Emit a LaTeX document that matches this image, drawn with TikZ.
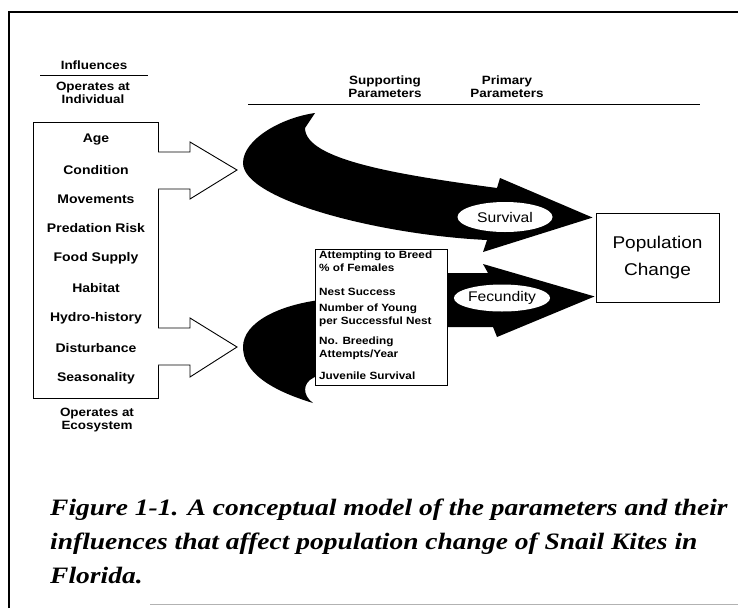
\documentclass[tikz,border=0pt]{standalone}
\usepackage{fontspec}
\setmainfont{Liberation Serif}
\newfontfamily\lab{Liberation Sans}[FakeStretch=1.12]
\newfontfamily\capfont{Liberation Serif}[FakeStretch=1.17]
\usetikzlibrary{shapes.geometric,calc}
\begin{document}
\begin{tikzpicture}[x=1pt,y=-1pt,
  small/.style={font=\lab\fontsize{12}{13}\selectfont\bfseries, inner sep=0pt, align=center},
  tiny/.style={font=\lab\fontsize{10.5}{12.5}\selectfont\bfseries, inner sep=0pt, align=left, anchor=north west},
  item/.style={font=\lab\fontsize{12.5}{14}\selectfont\bfseries, inner sep=0pt},
  big/.style={font=\lab\fontsize{17}{27}\selectfont, inner sep=0pt, align=center},
  ell/.style={ellipse, fill=white, inner sep=0pt, font=\lab\fontsize{14}{16}\selectfont},
  captxt/.style={anchor=west, inner sep=0pt, font=\capfont\bfseries\itshape\fontsize{23.5}{32}\selectfont},
  frame/.style={line width=1.4pt},
  hollow/.style={draw, fill=white, line width=0.9pt, line join=miter},
  blackarrow/.style={fill=black}
]
\useasboundingbox (0,0) rectangle (738,608);
% frame
\draw[frame] (9,608) -- (9,12) -- (738,12);
\draw[gray!60, line width=0.8pt] (150,604) -- (738,604);

% headings
\node[small] (infl) at (94,65) {Influences};
\draw[line width=0.8pt] (40,75) -- (148,75);
\node[small] (opind) at (93,93) {Operates at\\Individual};
\node[small] (supp) at (385,87) {Supporting\\Parameters};
\node[small] (prim) at (507,87) {Primary\\Parameters};
\draw[line width=0.9pt] (248,104) -- (700,104);

% left box
\node[draw, line width=0.9pt, minimum width=125pt, minimum height=276pt, inner sep=0pt] (box) at (95.5,260) {};
\foreach \t/\y [count=\i] in {Age/140, Condition/170, Movements/199, Predation Risk/228, Food Supply/258, Habitat/288, Hydro-history/318, Disturbance/348, Seasonality/378}
  \node[item] (it\i) at (96,\y) {\t};
\node[small] (opeco) at (97,420) {Operates at\\Ecosystem};

% hollow arrows
\draw[hollow] (158,152) -- (190,152) -- (190,142) -- (237,170) -- (190,199) -- (190,189) -- (158,189);
\draw[hollow] (158,328) -- (190,328) -- (190,318) -- (237,347) -- (190,377) -- (190,365) -- (158,365);

% population change
\node[draw, line width=0.9pt, minimum width=123pt, minimum height=89pt, inner sep=0pt, big] (pop) at (657.5,257.5) {Population\\Change};

% upper black arrow
\fill[blackarrow] (315,113) .. controls (280,118) and (243,140) .. (243,163)
  .. controls (243,200) and (380,235) .. (487,240)
  -- (483,252) -- ($(pop.north west)+(-3,5)$) -- (500,178) -- (497,188)
  .. controls (400,175) and (305,160) .. (305,128) -- cycle;

% lower black arrow
\fill[blackarrow] (313,403) .. controls (270,390) and (243,372) .. (243,347)
  .. controls (243,322) and (280,305) .. (320,300)
  -- (447,273) -- (488,273) -- (483,264) -- ($(pop.south west)+(-1,-6)$) -- (497,337) -- (493,327)
  -- (447,327) -- (320,374) -- (313,378)
  .. controls (303,383) and (302,395) .. cycle;

% supporting parameters box
\node[draw, fill=white, line width=0.9pt, minimum width=132pt, minimum height=136pt, inner sep=0pt] (supbox) at (381,317) {};
\node[tiny] (s1) at (319,251) {Attempting to Breed\\\% of Females};
\node[tiny, anchor=west] (s2) at (319,292) {Nest Success};
\node[tiny] (s3) at (319,304) {Number of Young\\per Successful Nest};
\node[tiny] (s4) at (319,337) {No. Breeding\\Attempts/Year};
\node[tiny, anchor=west] (s5) at (319,376) {Juvenile Survival};

% ellipses
\node[ell, minimum width=95pt, minimum height=30pt] (surv) at (505,217) {Survival};
\node[ell, minimum width=87pt, minimum height=27pt] (fec) at (502,298) {Fecundity};

% caption
\node[captxt] (c1) at (50,510) {Figure 1-1. A conceptual model of the parameters and their};
\node[captxt] (c2) at (50,544) {influences that affect population change of Snail Kites in};
\node[captxt] (c3) at (50,576) {Florida.};
\end{tikzpicture}
\end{document}
